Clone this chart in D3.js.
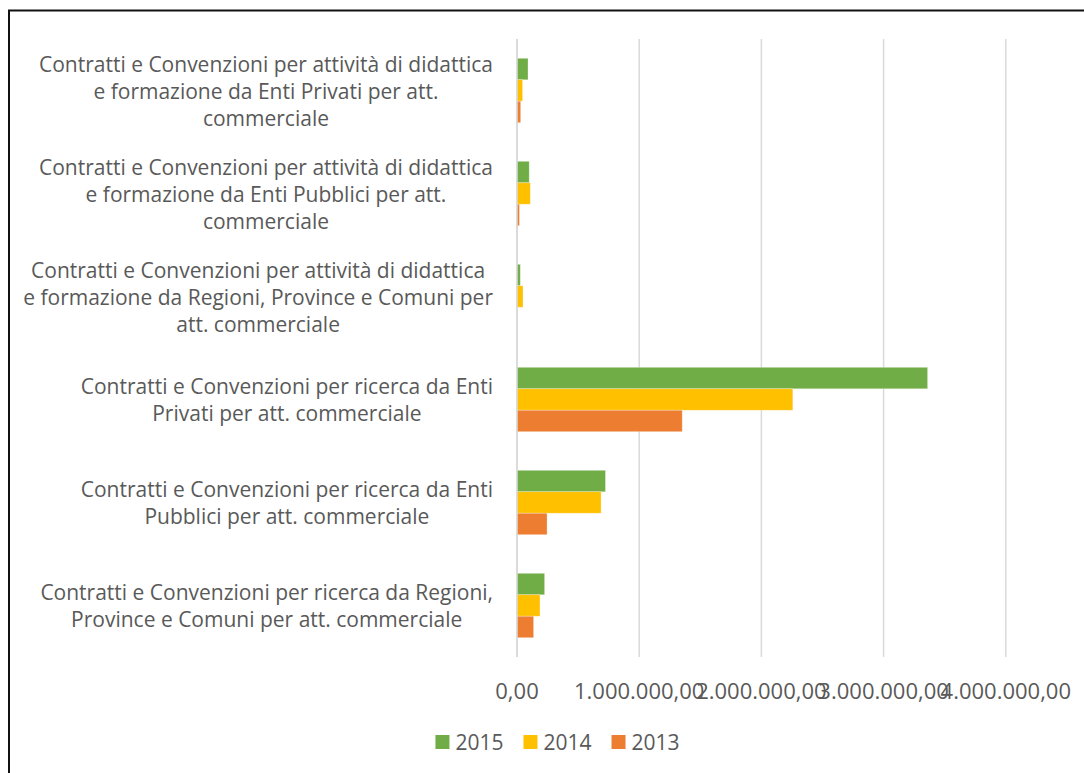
<!DOCTYPE html>
<html>
<head>
<meta charset="utf-8">
<script src="https://cdn.jsdelivr.net/npm/d3@7"></script>
<style>
  body { margin: 0; background: #fff; }
  svg { display: block; }
</style>
</head>
<body>
<div id="chart"></div>
<script>
// Data
var categories = [
  ["Contratti e Convenzioni per attività di didattica", "e formazione da Enti Privati per att.", "commerciale"],
  ["Contratti e Convenzioni per attività di didattica", "e formazione da Enti Pubblici per att.", "commerciale"],
  ["Contratti e Convenzioni per attività di didattica", "e formazione da Regioni, Province e Comuni per", "att. commerciale"],
  ["Contratti e Convenzioni per ricerca da Enti", "Privati per att. commerciale"],
  ["Contratti e Convenzioni per ricerca da Enti", "Pubblici per att. commerciale"],
  ["Contratti e Convenzioni per ricerca da Regioni,", "Province e Comuni per att. commerciale"]
];
var seriesNames = ["2015", "2014", "2013"];
var values2015 = [90000, 100000, 27000, 3360000, 724000, 226000];
var values2014 = [46000, 109000, 49000, 2257000, 688000, 188000];
var values2013 = [30000, 20000, 0, 1352000, 246000, 136000];
var xTicks = [0, 1000000, 2000000, 3000000, 4000000];
var colors = ["#70AD47", "#FFC000", "#ED7D31"];

var W = 1084, H = 773;
var font = "'Open Sans', sans-serif";
var textColor = "#595959";

var svg = d3.select("#chart").append("svg")
  .attr("width", W)
  .attr("height", H);

// frame (cut off on the right and bottom)
svg.append("line").attr("x1", 8).attr("x2", W).attr("y1", 10.5).attr("y2", 10.5)
  .attr("stroke", "#111").attr("stroke-width", 2);
svg.append("line").attr("x1", 9).attr("x2", 9).attr("y1", 10).attr("y2", H)
  .attr("stroke", "#111").attr("stroke-width", 2);

var x = d3.scaleLinear().domain([0, 4000000]).range([517, 1005.8]);

var y = d3.scaleBand()
  .domain(d3.range(categories.length))
  .range([39, 657])
  .paddingInner(0)
  .paddingOuter(0);

// Excel style gap width ~180%
var barH = y.bandwidth() / (3 + 1.8);

var data = categories.map(function(c, i) {
  return {
    idx: i,
    lines: c,
    vals: [values2015[i], values2014[i], values2013[i]]
  };
});

// gridlines
svg.append("g")
  .selectAll("line")
  .data(xTicks)
  .enter().append("line")
  .attr("x1", d => x(d)).attr("x2", d => x(d))
  .attr("y1", 39).attr("y2", 657)
  .attr("stroke", "#D9D9D9")
  .attr("stroke-width", 1.5);

// bars
var groups = svg.append("g").selectAll("g")
  .data(data)
  .enter().append("g")
  .attr("transform", d => `translate(0,${y(d.idx) + (y.bandwidth() - 3 * barH) / 2})`);

groups.selectAll("rect")
  .data(d => d.vals.map((v, k) => ({ v: v, k: k })))
  .enter().append("rect")
  .attr("x", x(0))
  .attr("y", d => d.k * barH)
  .attr("width", d => Math.max(0, x(d.v) - x(0)))
  .attr("height", barH)
  .attr("fill", d => colors[d.k])
  .attr("stroke", d => d.v > 0 ? "rgba(255,255,255,0.35)" : "none")
  .attr("stroke-width", 0.8);

// zero axis line on top
svg.append("line")
  .attr("x1", x(0)).attr("x2", x(0))
  .attr("y1", 39).attr("y2", 657)
  .attr("stroke", "#D9D9D9")
  .attr("stroke-width", 1.5);

// category labels: each line centred on the block, block right edge at 493
var labelRight = 493, lineGap = 27, fontSize = 21;
data.forEach(function(d) {
  var g = svg.append("g");
  var cy = y(d.idx) + y.bandwidth() / 2;
  var n = d.lines.length;
  var texts = g.selectAll("text")
    .data(d.lines)
    .enter().append("text")
    .attr("y", (t, i) => cy + (i - (n - 1) / 2) * lineGap)
    .attr("dominant-baseline", "central")
    .attr("text-anchor", "middle")
    .style("font-family", font)
    .style("font-size", fontSize + "px")
    .style("fill", textColor)
    .text(t => t);
  var maxW = 0;
  texts.each(function() { maxW = Math.max(maxW, this.getComputedTextLength()); });
  texts.attr("x", labelRight - maxW / 2);
});

// x tick labels, Italian number format
var itLocale = d3.formatLocale({ decimal: ",", thousands: ".", grouping: [3], currency: ["€", ""] });
var fmt = itLocale.format(",.2f");
svg.append("g").selectAll("text")
  .data(xTicks)
  .enter().append("text")
  .attr("x", d => x(d))
  .attr("y", 690)
  .attr("dominant-baseline", "central")
  .attr("text-anchor", "middle")
  .style("font-family", font)
  .style("font-size", "22px")
  .style("fill", textColor)
  .text(d => fmt(d));

// legend, centred
var legend = svg.append("g");
var items = legend.selectAll("g")
  .data(seriesNames)
  .enter().append("g");
items.append("rect")
  .attr("width", 14).attr("height", 14)
  .attr("y", 735)
  .attr("fill", (d, i) => colors[i]);
items.append("text")
  .attr("x", 20)
  .attr("y", 742)
  .attr("dominant-baseline", "central")
  .style("font-family", font)
  .style("font-size", fontSize + "px")
  .style("fill", textColor)
  .text(d => d);
var offs = [], pos = 0;
items.each(function(d, i) {
  offs.push(pos);
  pos += 20 + d3.select(this).select("text").node().getComputedTextLength() + 20;
});
var total = pos - 20;
var startX = 557.5 - total / 2;
items.attr("transform", (d, i) => `translate(${startX + offs[i]},0)`);
</script>
</body>
</html>
